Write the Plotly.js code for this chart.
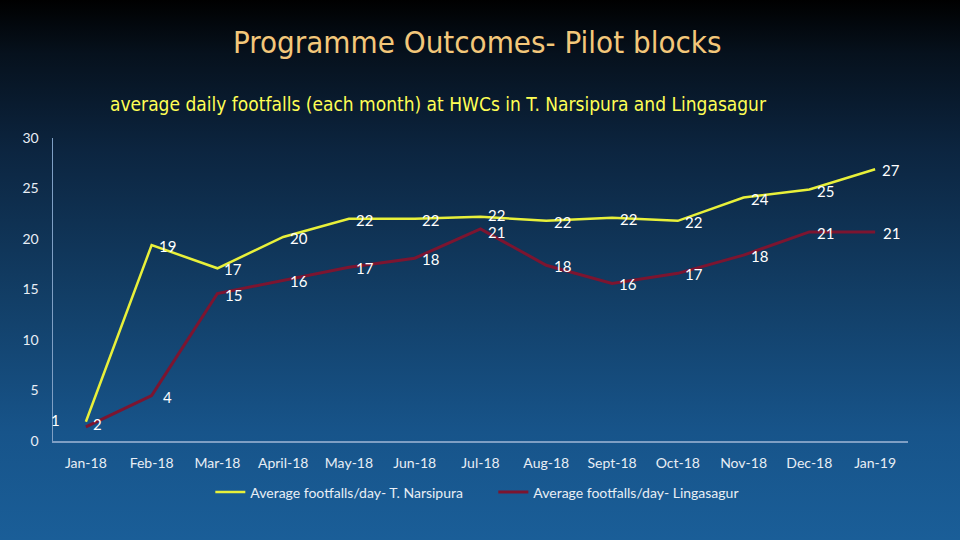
<!DOCTYPE html>
<html><head><meta charset="utf-8">
<script src="https://cdn.plot.ly/plotly-3.0.1.min.js"></script>
<style>
html,body{margin:0;padding:0;width:960px;height:540px;overflow:hidden;
background:linear-gradient(to bottom,#000000 0%,#06111d 10%,#0c2540 28%,#123e66 55%,#17548a 80%,#1a5e98 100%);}
#chart{width:960px;height:540px;}
</style></head>
<body><div id="chart"></div>
<script>
const months = ["Jan-18","Feb-18","Mar-18","April-18","May-18","Jun-18","Jul-18","Aug-18","Sept-18","Oct-18","Nov-18","Dec-18","Jan-19"];
const narsipura = [1.9,19.4,17.1,20.2,22.0,22.0,22.2,21.8,22.1,21.8,24.1,24.9,26.9];
const narsipuraLabels = ["1","19","17","20","22","22","22","22","22","22","24","25","27"];
const lingasagur = [1.4,4.5,14.6,15.9,17.2,18.1,21.0,17.4,15.6,16.6,18.4,20.7,20.7];
const lingasagurLabels = ["2","4","15","16","17","18","21","18","16","17","18","21","21"];
const seriesNames = ["Average footfalls/day- T. Narsipura","Average footfalls/day- Lingasagur"];

const labelFont = {color: "#ffffff", size: 15, family: "Lato, 'Open Sans', sans-serif"};
const traces = [
  {x: months, y: narsipura, name: seriesNames[0], type: "scatter", mode: "lines",
   line: {color: "#e8f03a", width: 2.5}, cliponaxis: false},
  {x: months, y: lingasagur, name: seriesNames[1], type: "scatter", mode: "lines",
   line: {color: "#7c1530", width: 3}, cliponaxis: false}
];
const dataLabels = [];
months.forEach((m, i) => {
  dataLabels.push({x: m, y: narsipura[i], xref: "x", yref: "y", text: narsipuraLabels[i],
    showarrow: false, font: labelFont, xanchor: "center", yanchor: "middle",
    xshift: i === 0 ? -30 : 16, yshift: i === 6 ? 2 : (i === 0 ? 2 : -1)});
  dataLabels.push({x: m, y: lingasagur[i], xref: "x", yref: "y", text: lingasagurLabels[i],
    showarrow: false, font: labelFont, xanchor: "center", yanchor: "middle",
    xshift: i === 0 ? 12 : 16, yshift: i === 6 ? -3 : (i === 0 ? 3 : -1)});
});
const layout = {
  width: 960, height: 540,
  paper_bgcolor: "rgba(0,0,0,0)", plot_bgcolor: "rgba(0,0,0,0)",
  margin: {l: 53, r: 52, t: 138, b: 99},
  font: {family: "Lato, 'Open Sans', sans-serif", color: "#e8eef5", size: 14},
  showlegend: true,
  legend: {orientation: "h", x: 0.515, xanchor: "center", y: -0.17, yanchor: "middle",
           font: {size: 14, color: "#e8eef5"}, bgcolor: "rgba(0,0,0,0)",
           entrywidth: 238, entrywidthmode: "pixels", itemwidth: 30},
  xaxis: {type: "category", range: [-0.5, 12.5], showgrid: false, zeroline: false,
          showline: true, linecolor: "#7f9fc4", linewidth: 1.5, ticks: "",
          ticklabelstandoff: 9, tickfont: {size: 14, color: "#e8eef5"}},
  yaxis: {range: [0, 30], dtick: 5, showgrid: false, zeroline: false,
          showline: true, linecolor: "#7f9fc4", linewidth: 1.5, ticks: "",
          ticklabelstandoff: 10, tickfont: {size: 14, color: "#e8eef5"}},
  annotations: [
    {text: "Programme Outcomes- Pilot blocks", xref: "paper", yref: "paper",
     x: 0.496, y: 1, yshift: 96, xanchor: "center", yanchor: "middle", showarrow: false,
     font: {family: "'DejaVu Sans Condensed', 'DejaVu Sans', sans-serif", size: 31, color: "#f3c77a"}},
    {text: "average daily footfalls (each month) at HWCs in T. Narsipura and Lingasagur", xref: "paper", yref: "paper",
     x: 0.451, y: 1, yshift: 34, xanchor: "center", yanchor: "middle", showarrow: false,
     font: {family: "'DejaVu Sans Condensed', 'DejaVu Sans', sans-serif", size: 19, color: "#ffff55"}}
  ].concat(dataLabels)
};
Plotly.newPlot("chart", traces, layout, {displayModeBar: false, staticPlot: true});
</script></body></html>
